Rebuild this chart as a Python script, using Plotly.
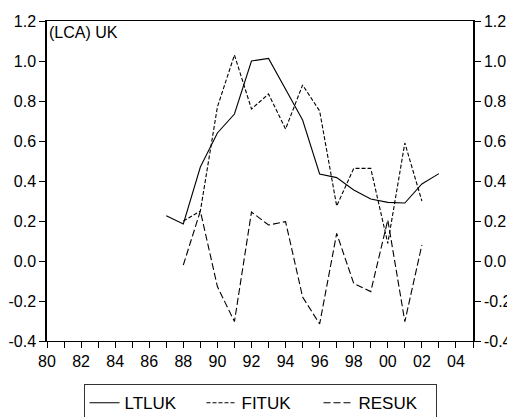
import plotly.graph_objects as go

# ---- data ----
ltluk_years = list(range(1987, 2004))
ltluk = [0.226, 0.185, 0.47, 0.64, 0.735, 1.0, 1.013, 0.86, 0.705, 0.435,
         0.417, 0.355, 0.31, 0.293, 0.29, 0.385, 0.437]

fit_years = list(range(1988, 2003))
fituk = [0.2, 0.25, 0.77, 1.03, 0.76, 0.835, 0.66, 0.88, 0.75, 0.275,
         0.463, 0.463, 0.088, 0.59, 0.30]
resuk = [-0.02, 0.25, -0.128, -0.303, 0.245, 0.18, 0.197, -0.18, -0.315, 0.138,
         -0.112, -0.153, 0.205, -0.303, 0.08]

x_tickvals = list(range(1980, 2006))
x_ticktext = ["80", "", "82", "", "84", "", "86", "", "88", "", "90", "", "92", "",
              "94", "", "96", "", "98", "", "00", "", "02", "", "04", ""]
y_tickvals = [-0.4, -0.2, 0.0, 0.2, 0.4, 0.6, 0.8, 1.0, 1.2]
y_ticktext = ["-0.4", "-0.2", "0.0", "0.2", "0.4", "0.6", "0.8", "1.0", "1.2"]

FONT = "Liberation Sans, Arial, sans-serif"

fig = go.Figure()
fig.add_trace(go.Scatter(x=ltluk_years, y=ltluk, mode="lines", name="LTLUK",
                         line=dict(color="black", width=1.1, dash="solid")))
fig.add_trace(go.Scatter(x=fit_years, y=fituk, mode="lines", name="FITUK",
                         line=dict(color="black", width=1.1, dash="4px,2px")))
fig.add_trace(go.Scatter(x=fit_years, y=resuk, mode="lines", name="RESUK",
                         line=dict(color="black", width=1.1, dash="7px,3px")))
# invisible trace on the right axis so its labels render
fig.add_trace(go.Scatter(x=[1980], y=[0], yaxis="y2", mode="markers",
                         marker=dict(opacity=0), showlegend=False, hoverinfo="skip"))

# the page body has an 8px default margin, so the figure is sized to end at the window edge
fig.update_layout(
    width=507, height=409,
    margin=dict(l=39, r=42, t=13, b=76, autoexpand=False),
    paper_bgcolor="white", plot_bgcolor="white",
    font=dict(family=FONT, size=15, color="black"),
    showlegend=True,
    legend=dict(orientation="h", x=0.5, xanchor="center", y=-0.135, yanchor="top",
                bordercolor="#333", borderwidth=1, font=dict(size=17),
                itemwidth=30, entrywidth=72, entrywidthmode="pixels", tracegroupgap=0),
    xaxis=dict(range=[1980, 2005], tickmode="array", tickvals=x_tickvals,
               ticktext=x_ticktext, ticks="outside", ticklen=6, tickcolor="black",
               showline=True, linecolor="black", linewidth=1, mirror=True,
               showgrid=False, zeroline=False, tickfont=dict(size=16), automargin=False),
    yaxis=dict(range=[-0.4, 1.2], tickmode="array", tickvals=y_tickvals,
               ticktext=y_ticktext, ticks="outside", ticklen=6, tickcolor="black",
               showline=True, linecolor="black", linewidth=1.5, mirror=False,
               showgrid=False, zeroline=False, tickfont=dict(size=16), automargin=False),
    yaxis2=dict(range=[-0.4, 1.2], overlaying="y", side="right", tickmode="array",
                tickvals=y_tickvals, ticktext=y_ticktext, ticks="outside", ticklen=6,
                tickcolor="black", showline=True, linecolor="black", linewidth=1.5,
                showgrid=False, zeroline=False, tickfont=dict(size=16), automargin=False),
    annotations=[dict(text="(LCA) UK", xref="paper", yref="paper", x=0.0, y=1.0,
                      xanchor="left", yanchor="top", showarrow=False, xshift=0, yshift=-1,
                      font=dict(size=16, family=FONT))],
)

fig.write_html("out.html")
